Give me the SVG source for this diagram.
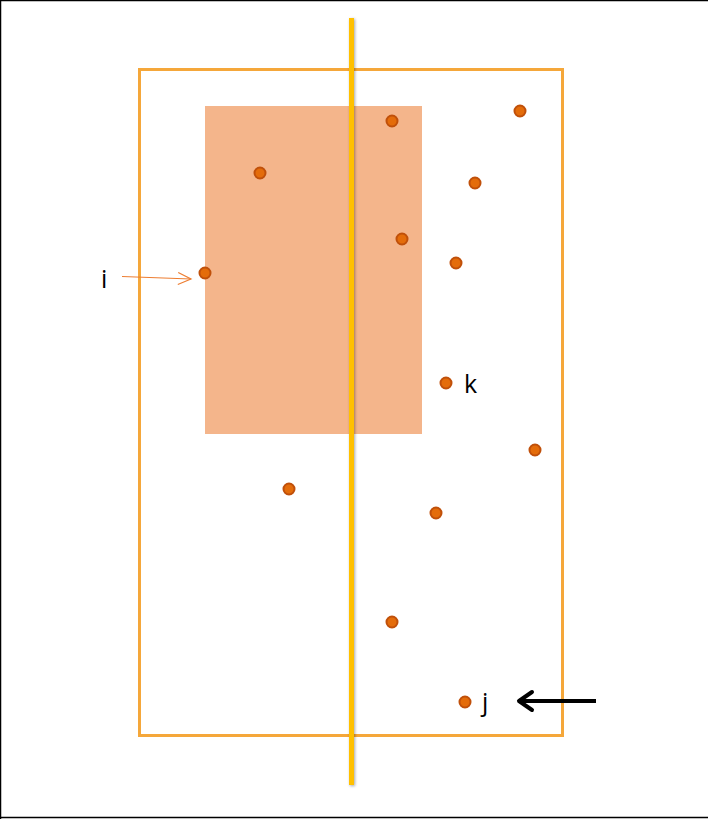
<svg xmlns="http://www.w3.org/2000/svg" width="708" height="819" viewBox="0 0 708 819">
<defs>
<style>
.pt{fill:#E46C0A;stroke:#C0500A;stroke-width:2}
.lbl{font-family:"Open Sans","Liberation Sans",sans-serif;font-size:25px;fill:#000}
</style>
<marker id="ah-o" markerWidth="16" markerHeight="14" refX="14" refY="7" orient="auto" markerUnits="userSpaceOnUse">
<path d="M1,1 L14,7 L1,13" fill="none" stroke="#ED7D31" stroke-width="1.2"/>
</marker>
<filter id="sh" x="-200%" y="-5%" width="500%" height="110%">
<feGaussianBlur in="SourceAlpha" stdDeviation="1.5"/>
<feOffset dx="1" dy="1"/>
<feComponentTransfer><feFuncA type="linear" slope="0.35"/></feComponentTransfer>
<feMerge><feMergeNode/><feMergeNode in="SourceGraphic"/></feMerge>
</filter>
</defs>
<rect x="0" y="0" width="708" height="819" fill="#fff"/>
<path d="M0.5,819 V0.5 H708" fill="none" stroke="#000" stroke-width="1.5"/>
<line x1="0" y1="817.5" x2="708" y2="817.5" stroke="#000" stroke-width="1.5"/>
<g id="region">
<rect x="205" y="106" width="217" height="328" fill="#F4B58B"/>
</g>
<g id="frame">
<rect x="139.5" y="69.5" width="423" height="666" fill="none" stroke="#F5A73A" stroke-width="3"/>
</g>
<g id="split" filter="url(#sh)">
<rect x="349" y="18" width="5" height="767" fill="#FFC000"/>
</g>
<g id="points">
<circle class="pt" cx="392" cy="121" r="5.5"/>
<circle class="pt" cx="520" cy="111" r="5.5"/>
<circle class="pt" cx="260" cy="173" r="5.5"/>
<circle class="pt" cx="475" cy="183" r="5.5"/>
<circle class="pt" cx="402" cy="239" r="5.5"/>
<circle class="pt" cx="456" cy="263" r="5.5"/>
<circle class="pt" cx="205" cy="273" r="5.5"/>
<circle class="pt" cx="446" cy="383" r="5.5"/>
<circle class="pt" cx="535" cy="450" r="5.5"/>
<circle class="pt" cx="289" cy="489" r="5.5"/>
<circle class="pt" cx="436" cy="513" r="5.5"/>
<circle class="pt" cx="392" cy="622" r="5.5"/>
<circle class="pt" cx="465" cy="702" r="5.5"/>
</g>
<g id="labels">
<text class="lbl" x="101" y="288">i</text>
<text class="lbl" x="464" y="393">k</text>
<text class="lbl" x="482" y="711">j</text>
</g>
<g id="connectors">
<line x1="122" y1="276.5" x2="191" y2="279" stroke="#ED7D31" stroke-width="1.2" marker-end="url(#ah-o)"/>
<line x1="596" y1="701" x2="519" y2="701" stroke="#000" stroke-width="4"/>
<path d="M532,692 L519,701 L532,710" fill="none" stroke="#000" stroke-width="4" stroke-linejoin="round" stroke-linecap="round"/>
</g>
</svg>
